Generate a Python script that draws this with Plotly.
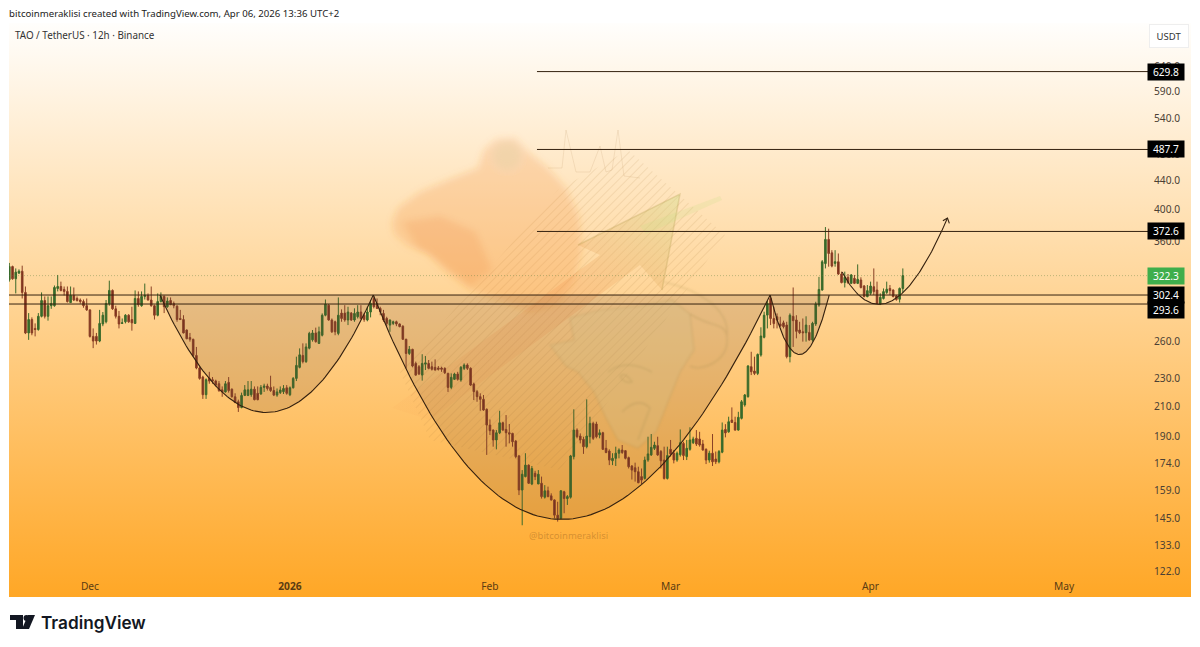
import base64
import math
import numpy as np
import pandas as pd
import plotly.graph_objects as go

START = "2025-11-18 12:00"
open_ = [318,332,319,325,327,305,267,279,271,270,282,297,282,292,292,309,311,308,306,295,302,299,297.5,296,292,288,264,264,260,275,277,294,307,289,282,275.5,277,283,279,275.5,
299,292,301,302,297.5,292,283,296,301,291,297,294,291.5,280,279,269.6,263,261.5,248,238,231,218,230,229,228,226,221.5,220,227,222,216.5,213,209,217.5,217.5,218,222,219,218.5,223.3,
224.3,223.3,221,217.7,219.5,220.2,223,218,223,230,238.5,248,243,254,261,267,258,265,283,292.5,278.6,277,266.6,285,285,278.6,285,278.6,281.6,286,283,278.6,286,299,294,289.4,284.7,280,274,275.5,
277,275,273,261.5,249.6,253,241.6,239,232.5,241,241.6,239,238.5,238,238,237.7,233.8,223.3,229.3,233.3,228.8,237.7,240.3,237.7,225.8,220.2,216.6,214.7,207.8,197.3,194.1,187.9,192.4,198.8,194.5,192.4,192,187.2,178.3,159.4,
166.6,173,162.6,168.4,162.6,163,155.7,159,156.4,154.3,146.8,145.3,158.5,155,155.7,177.9,194.1,190.3,188.3,183.8,189.9,198.4,198,191,192.4,182.8,181.2,175.5,176.9,179.9,181.8,181.4,177.3,172.5,171.5,169.3,166.6,165.6,175.9,178.9,
182.8,184.4,180.9,175.9,165.6,182.2,179.9,175.9,179,185.8,177.9,182.2,186.2,188.9,188.5,185.4,182.2,175.9,179.9,176.5,174.9,180.5,194.5,193,200.6,199,194.1,201.7,210.8,216.6,239,235.6,233.8,248.3,263.2,283.1,299,280,281.6,275,
276,274,247,282,278.6,269.6,268,267.2,267.5,260.9,275,292.6,307.4,335.3,363,347.3,335.5,337.3,324,315,320.5,314.2,319.4,314.2,317.7,311.5,300.8,304.1,310.8,307.4,293.6,299,305,309,307.4,301.5,298.3,309]
high = [336,333,330,329,333,311,285,281,275.5,285,305,301,301,301,312,323,316,311,311,311,310,301,299,298,299,288.5,271,267,288,286,297.5,317,308,292,287,280,284,284,291,307,
306,306,314,304,311,293,304,305,302,300,300,296,292.5,288,283,270,267,262,255,239,232,230,235,231,229,228,224,228,231,222.5,219,214.5,219.5,225,228,228,224,224,225,226,
226,232,224,222.5,224,225,225,224,231,247,253.8,258,258,268,269.6,271.7,272.6,284.7,298,293.5,280,278,300,288.5,292.5,291,286,289.5,292.5,292.5,284.7,291,297.5,301.3,299,291,288,281.6,279,278,
278,275.5,273.8,262,255.8,253.5,243,240.3,249,247.5,244.3,243,244.8,239.5,239,238.5,234.3,233.8,234.3,235,239.5,241.6,241.6,238.5,226.8,221.4,219,217.8,208.4,201,194.5,194.1,206.8,199.5,203.9,198,192.4,187.9,178.9,170.2,
179.9,173.4,172.5,169.8,170.2,166.6,162,161.2,157.7,154.6,153.4,159.4,159,156.8,178.9,207.8,195.2,192,189.9,214.7,202.8,199.5,199.5,194.5,193,187.9,182.2,179.9,183.8,182.8,184.8,181.8,177.9,173,174.4,172.1,171.1,177.9,189.9,191.6,
186.8,189.9,181.8,183.8,183.8,187.9,181.8,180.9,194.5,186.8,187.9,195.9,189.9,194.1,193,187.9,182.8,181.4,191.6,180.9,181.8,199,197.9,202.8,209.1,202.8,206.1,214.2,218.5,240.3,251,247,249.6,272,286.3,296.5,300.8,291,284.7,281.6,
278,277,284.7,310,283,277,280,282,274,277,295.8,321,339.2,378,376,350.4,350.4,346.6,326.5,326.5,324,324,323,334.4,320.5,312.5,312.5,316,330,316,304.1,309,316,312.5,308,302.5,310,330]
low = [316,318,304,324,299,266,261,265,264,269,281,280,278,289,291,306,306,302,295,295,296.5,296,294,290,287,263,254,257,259,273,275.5,292,288,280,271,275,275.5,276,269,275,
291,291,298,297,291,279,282,295,285,290,292.5,289.5,277,278.6,266.6,261.5,259.5,247,237,229,215,215,226,226,224,220,216.5,219.5,219.5,216,212,206,208.5,217,217,216.5,214,214,218,220,
221,220,217,216.5,218.5,218.5,218,217,222.5,228,237.7,241.6,242,253,259.5,258.6,257.5,264,282,278,267,265,265,277,277,274,277.7,277,280,279,277,277.4,281,289.4,288.8,283,277,273,268,274,
273,272,261,237.7,248.3,238.5,232,232.5,228.3,236.4,237,236,236,236,235,233.3,220,222,228.8,228.3,227.5,236.4,236.4,224.3,214.2,213,206.8,206.8,178.9,191,183.8,182.2,191.6,193.7,183.8,185.8,183.8,176.9,156.8,142,
166.2,162.6,162,164.7,162.6,155,155,155.7,154,145.3,143.7,144.8,147.7,151.8,155,176.3,188.9,185.8,179.5,182.8,185.8,187.9,188.9,188.9,181.8,179.9,173,173,172.5,176.9,179.5,176.3,171.1,165,163.9,163,162.6,165,174.9,178.3,
181.8,178.3,171.1,165,165,177.9,174,174.9,177.9,175.9,175.9,181.4,185.4,184.2,183.8,181.4,173.6,174.4,172.5,173.6,174,179.9,189.5,192.4,198.8,193.7,193.7,201,209.6,215.9,232.5,232.5,232.5,247,262.3,271,274,271,271,272.6,
271,245.6,242.4,255,262.3,266,259.5,259.5,260.3,259.5,273.2,291,306.8,330,331.9,331.2,331.9,323,314.2,310,313.5,313.5,313.5,313.5,309,300.2,300.2,302.5,302.5,293.6,292.6,298,303.5,302.5,300.2,296.8,295,304.8]
close = [332,319,326,327,305,267,279,267,270,282,297,282,292,294,310,311,307,306,296,302,297.5,297,296,292,288,264,260,260,275.5,283,294,307,289,282,275,276,283,277,276,299,
293,301,302,297.5,292,283,296,301,291,296.5,293,292,279,279,267,262,261.5,248,238,230,218,229,228,228,225,221,220,226,221,216.5,212.5,209,217.5,221.5,221.5,222,214.5,214.5,223.3,224.3,
222.5,221,217.7,220,221.4,222.5,219,223,230,240,248.5,243,255,266.6,267,259.5,268,283,293.5,278.6,268,268,283,280,278.6,286,278.6,284.7,286,280,279,286,294,291,289.4,286.3,278.6,275.5,278.6,277,
275,272.6,261.5,249.6,253,239.5,232.5,233.3,241.6,242,237.7,237,236.4,237,237,234.3,223.3,230.8,233.3,229.3,238.5,240.3,237.7,225,220.2,216.6,214.7,207.3,197.3,193.7,187.9,192.4,198.8,194.1,192.4,191.6,186.8,177.9,159.4,167.9,
173,163,171.1,166.6,167.9,156,159,156,154.3,146.8,145.3,159,155,156,178.3,194.1,189.9,187.9,183.8,190.3,198.4,188.9,189.9,192.4,182.2,180.3,175.9,176.9,179.9,181.8,180.3,176.9,172.1,170.2,169.3,163.3,164.7,175.9,179.5,183.4,
184.8,178.9,175.5,165.6,178.5,179.5,175.9,179.9,186.2,178.5,182.8,187.9,188.5,185.4,184.8,181.8,175.9,179.9,174.9,174.9,180.9,194.1,192.3,199.5,199,194.1,202.4,213,217.8,239.5,235.1,233.8,248.8,264.3,283,294,280,275.3,278.6,273.2,
272.6,247,283,278,268.4,267.2,267.2,274,260.9,275.6,293.6,308,337.3,363,346.6,332.6,337.3,324,315,320.5,315,323,314.2,318.4,310,300.8,306.8,311.5,305.8,294.2,300.2,305.8,308.2,306.8,300.8,298,309,322.3]

y_ticks = [640, 590, 540, 480, 440, 400, 360, 260, 230, 210, 190, 174, 159, 145, 133, 122]
x_tick_dates = ["2025-12-01", "2026-01-01", "2026-02-01", "2026-03-01", "2026-04-01", "2026-05-01"]
x_tick_text = ["Dec", "<b>2026</b>", "Feb", "Mar", "Apr", "May"]

level_lower = 293.6
level_upper = 302.4
targets = [372.6, 487.7, 629.8]
last_price = 322.3
target_start = "2026-02-08 07:00"

cup_left_dates = ["2025-12-11 20:00", "2025-12-28 09:00", "2026-01-13 22:00"]
cup_left_prices = [302.4, 139.8, 302.4]
cup_main_dates = ["2026-01-13 22:00", "2026-02-10 15:00", "2026-03-16 10:30"]
cup_main_prices = [302.4, 69.3, 302.4]
cup_handle_dates = ["2026-03-16 10:30", "2026-03-20 23:00", "2026-03-25 14:00"]
cup_handle_prices = [302.4, 204.6, 302.4]
path_dates = ["2026-03-27 14:00", "2026-04-03 17:00", "2026-04-12 22:00"]
path_prices = [326.1, 246.7, 389.4]
arrow_dates = ["2026-04-12 05:00", "2026-04-12 22:00", "2026-04-13 05:00"]
arrow_prices = [386, 389.4, 382.6]

LEFT, RIGHT, TOP, BOTTOM = 9, 1148, 23, 573
W, H = 1200, 647
PW, PH = RIGHT - LEFT, BOTTOM - TOP
times = pd.date_range(START, periods=len(close), freq="12h")


def bezier(dates, prices, n=90):
    ts = pd.to_datetime(dates).astype("int64").to_numpy().astype(float)
    ls = np.log(np.array(prices, dtype=float))
    t = np.linspace(0, 1, n)
    xs = (1 - t) ** 2 * ts[0] + 2 * t * (1 - t) * ts[1] + t ** 2 * ts[2]
    ys = (1 - t) ** 2 * ls[0] + 2 * t * (1 - t) * ls[1] + t ** 2 * ls[2]
    return pd.to_datetime(xs.astype("int64")), np.exp(ys)


svg = f'''<svg xmlns="http://www.w3.org/2000/svg" width="{W}" height="{H}" viewBox="0 0 {W} {H}">
<defs>
<linearGradient id="g" x1="0" y1="0" x2="0" y2="1"><stop offset="0" stop-color="#fffefc"/><stop offset="1" stop-color="#ffa726"/></linearGradient>
<linearGradient id="ar" x1="0" y1="1" x2="1" y2="0"><stop offset="0" stop-color="#f07a3a" stop-opacity="0.03"/><stop offset="0.6" stop-color="#ef8a45" stop-opacity="0.20"/><stop offset="1" stop-color="#cfe08a" stop-opacity="0.40"/></linearGradient>
<pattern id="h" width="6" height="6" patternUnits="userSpaceOnUse" patternTransform="rotate(45)"><line x1="0" y1="0" x2="0" y2="6" stroke="#a87838" stroke-opacity="0.14" stroke-width="2"/></pattern>
<filter id="b" x="-10%" y="-10%" width="120%" height="120%"><feGaussianBlur stdDeviation="3.5"/></filter>
<filter id="s" x="-10%" y="-10%" width="120%" height="120%"><feGaussianBlur stdDeviation="1"/></filter>
</defs>
<rect width="{W}" height="{H}" fill="#ffffff"/>
<rect x="9" y="23" width="1182" height="574" fill="url(#g)"/>
<polygon points="558,190 628,150 725,235 560,470 430,440 400,372" fill="url(#h)"/>
<g filter="url(#b)">
<path d="M392 222 L398 208 L420 192 L448 180 L478 168 L484 150 L497 139 L515 138 L528 152 L548 168 L566 188 L579 216 L582 250 L574 282 L558 304 L530 312 L498 300 L470 290 L446 272 L428 254 L408 246 L394 234 Z" fill="#f08428" fill-opacity="0.20"/>
<path d="M402 222 L440 216 L476 232 L492 270 L470 286 L440 262 L418 248 Z" fill="#e8601c" fill-opacity="0.13"/>
<circle cx="507" cy="156" r="14" fill="#d8d0a8" fill-opacity="0.28"/>
</g>
<polygon points="392,408 600,255 578,245 680,194 662,290 640,265 430,420" fill="url(#ar)"/>
<polyline points="578,245 680,194 662,290" fill="none" stroke="#b59a50" stroke-opacity="0.28" stroke-width="1.5"/>
<polygon points="640,226 720,196 722,200 646,234" fill="#cfe08a" fill-opacity="0.22"/>
<polyline points="548,168 562,168 566,130 576,172 590,172 600,146 606,172 612,170 618,130 624,176 640,178" fill="none" stroke="#b58a5a" stroke-opacity="0.16" stroke-width="1"/>
<g filter="url(#s)">
<path d="M550 345 L574 340 L570 318 L600 310 L640 306 L672 300 L690 314 L694 350 L680 372 L668 402 L656 432 L638 448 L618 440 L606 418 L594 392 L578 372 L566 366 Z" fill="#e8d596" fill-opacity="0.30" stroke="#b39a55" stroke-opacity="0.28" stroke-width="1.2"/>
<path d="M690 314 C712 328 724 322 727 336 C730 362 700 372 690 366 M664 282 C700 290 730 310 727 336" fill="none" stroke="#b39a55" stroke-opacity="0.28" stroke-width="1.5"/>
<path d="M608 372 Q626 358 652 372 M620 376 Q626 372 632 382 Q624 384 620 376 M622 412 Q638 396 650 408 L638 440" fill="none" stroke="#b39a55" stroke-opacity="0.30" stroke-width="1.5"/>
</g>
<path d="M10 615 H23 V629 H16 V620 H10 Z" fill="#131722"/>
<circle cx="26.5" cy="618" r="3" fill="#131722"/>
<path d="M28 615 H35 L29 629 H22 Z" fill="#131722"/>
</svg>'''
bg_src = "data:image/svg+xml;base64," + base64.b64encode(svg.encode()).decode()

fig = go.Figure()
fig.add_trace(go.Candlestick(
    x=times, open=open_, high=high, low=low, close=close, whiskerwidth=0,
    increasing=dict(line=dict(color="#3b6a2a", width=1), fillcolor="#356b2c"),
    decreasing=dict(line=dict(color="#8a4026", width=1), fillcolor="#76281a"),
    hoverinfo="skip", showlegend=False))

LINE = "#35210f"
for dates, prices in [(cup_left_dates, cup_left_prices), (cup_main_dates, cup_main_prices), (cup_handle_dates, cup_handle_prices)]:
    xs, ys = bezier(dates, prices)
    fig.add_trace(go.Scatter(x=xs, y=ys, mode="lines", fill="toself", fillcolor="rgba(105,70,45,0.17)",
                             line=dict(color=LINE, width=1.1), hoverinfo="skip", showlegend=False))
xs, ys = bezier(path_dates, path_prices)
fig.add_trace(go.Scatter(x=xs, y=ys, mode="lines", line=dict(color=LINE, width=1.1), hoverinfo="skip", showlegend=False))
fig.add_trace(go.Scatter(x=arrow_dates, y=arrow_prices, mode="lines", line=dict(color=LINE, width=1.1), hoverinfo="skip", showlegend=False))

x_end = "2026-05-14 00:00"
x_begin = "2025-11-18 10:53"
for lv in (level_upper, level_lower):
    fig.add_trace(go.Scatter(x=[x_begin, x_end], y=[lv, lv], mode="lines", line=dict(color=LINE, width=1), hoverinfo="skip", showlegend=False))
for lv in targets:
    fig.add_trace(go.Scatter(x=[target_start, x_end], y=[lv, lv], mode="lines", line=dict(color=LINE, width=1), hoverinfo="skip", showlegend=False))
fig.add_trace(go.Scatter(x=[x_begin, x_end], y=[last_price, last_price], mode="lines",
                         line=dict(color="rgba(90,125,60,0.40)", width=1, dash="1px,2px"), hoverinfo="skip", showlegend=False))

FONT = "Noto Sans, Open Sans, sans-serif"


def px_x(v):
    return (v - LEFT) / PW


def px_y(v):
    return (BOTTOM - v) / PH


ann = []


def text_at(x, y, s, size=10.5, color="#2e2a26", anchor="left", family=FONT, weight="normal"):
    ann.append(dict(xref="paper", yref="paper", x=px_x(x), y=px_y(y), text=s, showarrow=False, xanchor=anchor,
                    yanchor="middle", font=dict(size=size, color=color, family=family, weight=weight)))


text_at(6.5, 13, "bitcoinmeraklisi created with TradingView.com, Apr 06, 2026 13:36 UTC+2", size=9.65, color="#222222")
text_at(13, 35, "TAO / TetherUS · 12h · Binance", size=9.85, color="#333333")
text_at(568, 535, "@bitcoinmeraklisi", size=9.5, color="rgba(150,95,30,0.42)", anchor="center")
text_at(39, 622, "TradingView", size=17.2, color="#131722", family="Inter, Lato, sans-serif", weight=600)

ann.append(dict(xref="paper", yref="paper", x=px_x(1169), y=px_y(36), text="USDT", showarrow=False, xanchor="center", yanchor="middle",
                width=36, height=20, bgcolor="rgba(255,255,255,0.95)", bordercolor="#eeeeee", borderwidth=1,
                font=dict(size=9.5, color="#333333", family=FONT)))

for val, shift, bg in [(targets[2], 0, "#000000"), (targets[1], 0, "#000000"), (targets[0], 0, "#000000"),
                       (last_price, 0, "#3fae4c"), (level_upper, 0, "#000000"), (level_lower, -6, "#000000")]:
    ann.append(dict(xref="paper", yref="y", x=px_x(1166), y=math.log10(val), yshift=shift, text=f"{val:.1f}", showarrow=False,
                    xanchor="center", yanchor="middle", width=34, height=14, bgcolor=bg,
                    font=dict(size=10.2, color="#ffffff", family=FONT)))

fig.update_layout(
    width=W, height=H, margin=dict(l=LEFT, r=W - RIGHT, t=TOP, b=H - BOTTOM, autoexpand=False),
    paper_bgcolor="rgba(0,0,0,0)", plot_bgcolor="rgba(0,0,0,0)", showlegend=False, dragmode=False,
    images=[dict(source=bg_src, xref="paper", yref="paper", x=px_x(0), y=px_y(0), sizex=W / PW, sizey=H / PH,
                 xanchor="left", yanchor="top", sizing="stretch", layer="below")],
    annotations=ann,
    xaxis=dict(type="date", range=[x_begin, x_end], rangeslider=dict(visible=False), showgrid=False, zeroline=False,
               showline=False, tickmode="array", tickvals=x_tick_dates, ticktext=x_tick_text, ticks="outside", ticklen=4,
               tickcolor="rgba(0,0,0,0)", tickfont=dict(size=10.2, color="#5b3c12", family=FONT)),
    yaxis=dict(type="log", side="right", range=[math.log10(121.4), math.log10(738.7)], showgrid=False, zeroline=False,
               showline=False, tickmode="array", tickvals=y_ticks, ticktext=[f"{v:.1f}" for v in y_ticks], ticks="outside",
               ticklen=3, tickcolor="rgba(0,0,0,0)", tickfont=dict(size=10.2, color="#4a4034", family=FONT)),
)

fig.write_html("out.html", config=dict(displayModeBar=False),
               post_script="document.body.style.margin='0';document.documentElement.style.overflow='hidden';")
